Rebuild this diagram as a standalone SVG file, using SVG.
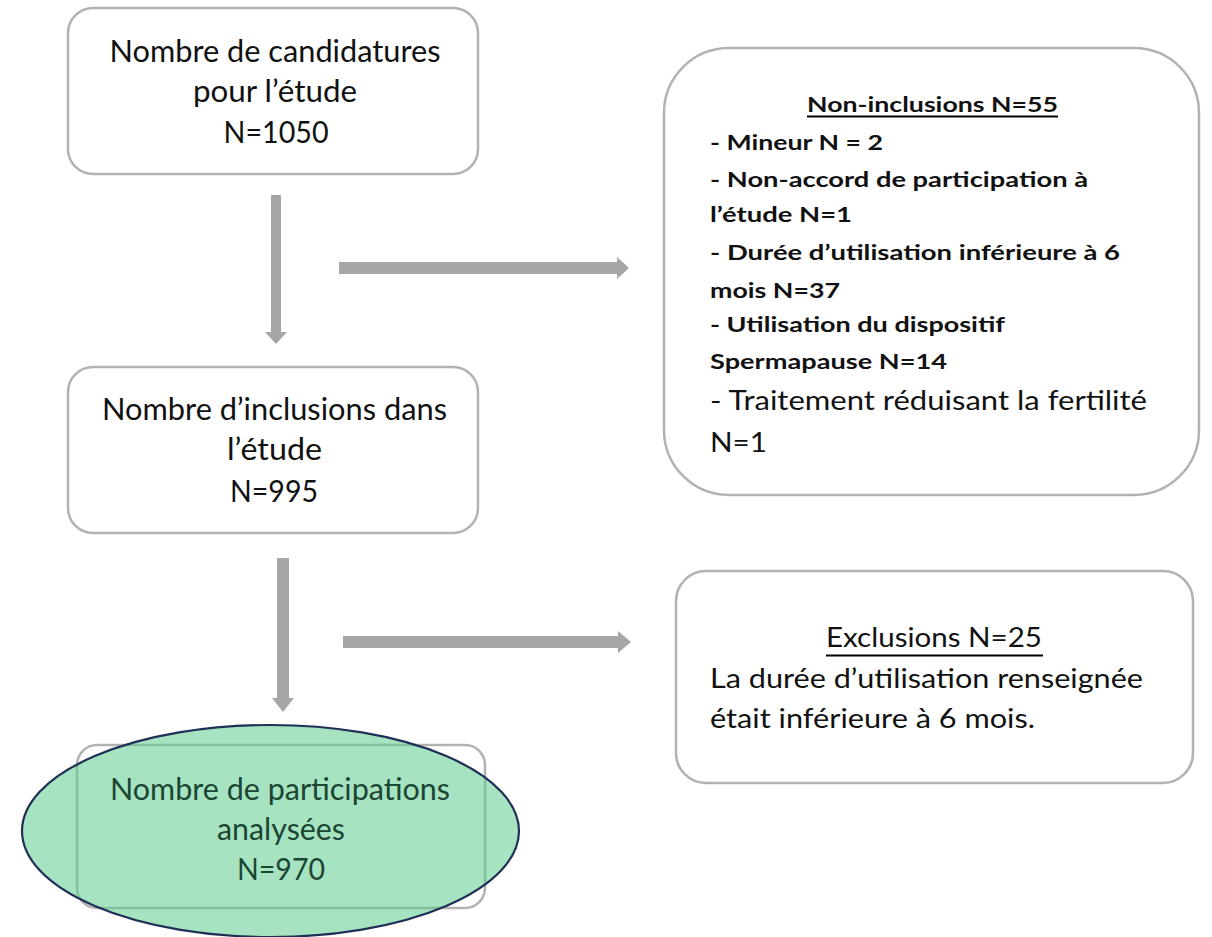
<svg xmlns="http://www.w3.org/2000/svg" width="1212" height="937" viewBox="0 0 1212 937">
  <style>
    .box { fill: #ffffff; stroke: #b2b2b2; stroke-width: 2.5; }
    .t { font-family: Lato, "Liberation Sans", sans-serif; fill: #111111; }
    .c { text-anchor: middle; font-size: 30px; }
    .li { font-size: 21px; font-weight: 700; }
    .lg { font-size: 27px; }
    .arr { fill: #a6a6a6; }
    .g { fill: #1b4634; }
  </style>
  <rect width="1212" height="937" fill="#ffffff"/>

  <g id="connectors">
    <path class="arr" d="M271,195 H281 V332 H287 L276,344 L265,332 H271 Z"/>
    <path class="arr" d="M339,262 V274 H617 V279 L629,268 L617,257 V262 Z"/>
    <path class="arr" d="M277,558 H289 V698 H294 L283,712 L272,698 H277 Z"/>
    <path class="arr" d="M343,636 V648 H618 V653 L631,642 L618,631 V636 Z"/>
  </g>

  <g id="node-candidatures">
    <rect class="box" x="68" y="8" width="410" height="166" rx="25"/>
    <text class="t c" x="275" y="62" textLength="331" lengthAdjust="spacingAndGlyphs">Nombre de candidatures</text>
    <text class="t c" x="275" y="102" textLength="164" lengthAdjust="spacingAndGlyphs">pour l’étude</text>
    <text class="t c" x="276" y="143" textLength="105" lengthAdjust="spacingAndGlyphs">N=1050</text>
  </g>

  <g id="node-inclusions">
    <rect class="box" x="68" y="367" width="410" height="166" rx="25"/>
    <text class="t c" x="274.5" y="420" textLength="345" lengthAdjust="spacingAndGlyphs">Nombre d’inclusions dans</text>
    <text class="t c" x="274.5" y="460" textLength="95" lengthAdjust="spacingAndGlyphs">l’étude</text>
    <text class="t c" x="274" y="502" textLength="88" lengthAdjust="spacingAndGlyphs">N=995</text>
  </g>

  <g id="node-non-inclusions">
    <rect class="box" x="664" y="48" width="535" height="447" rx="65"/>
    <text class="t" x="932.5" y="112" text-anchor="middle" font-size="21" font-weight="700" textLength="251" lengthAdjust="spacingAndGlyphs">Non-inclusions N=55</text>
    <line x1="807" y1="116.5" x2="1058" y2="116.5" stroke="#000" stroke-width="2"/>
    <text class="t li" x="710" y="150" textLength="173" lengthAdjust="spacingAndGlyphs">- Mineur N = 2</text>
    <text class="t li" x="710" y="187" textLength="378" lengthAdjust="spacingAndGlyphs">- Non-accord de participation à</text>
    <text class="t li" x="710" y="222" textLength="142" lengthAdjust="spacingAndGlyphs">l’étude N=1</text>
    <text class="t li" x="710" y="260" textLength="410" lengthAdjust="spacingAndGlyphs">- Durée d’utilisation inférieure à 6</text>
    <text class="t li" x="710" y="298" textLength="130" lengthAdjust="spacingAndGlyphs">mois N=37</text>
    <text class="t li" x="710" y="332" textLength="295" lengthAdjust="spacingAndGlyphs">- Utilisation du dispositif</text>
    <text class="t li" x="710" y="369" textLength="237" lengthAdjust="spacingAndGlyphs">Spermapause N=14</text>
    <text class="t lg" x="710" y="410" textLength="437" lengthAdjust="spacingAndGlyphs">- Traitement réduisant la fertilité</text>
    <text class="t lg" x="710" y="452" textLength="57" lengthAdjust="spacingAndGlyphs">N=1</text>
  </g>

  <g id="node-exclusions">
    <rect class="box" x="676" y="571" width="517" height="212" rx="30"/>
    <text class="t" x="934" y="647" text-anchor="middle" font-size="27" textLength="216" lengthAdjust="spacingAndGlyphs">Exclusions N=25</text>
    <line x1="826" y1="655.5" x2="1043" y2="655.5" stroke="#000" stroke-width="2"/>
    <text class="t lg" x="710" y="688" textLength="433" lengthAdjust="spacingAndGlyphs">La durée d’utilisation renseignée</text>
    <text class="t lg" x="710" y="728" textLength="325" lengthAdjust="spacingAndGlyphs">était inférieure à 6 mois.</text>
  </g>

  <g id="node-analysees">
    <rect class="box" x="77" y="745" width="408" height="163" rx="20"/>
    <ellipse cx="270.5" cy="831" rx="248.5" ry="106" fill="#5dcc8e" fill-opacity="0.55" stroke="#1f2f55" stroke-width="2.2"/>
    <text class="t c g" x="280" y="800" textLength="340" lengthAdjust="spacingAndGlyphs">Nombre de participations</text>
    <text class="t c g" x="281" y="840" textLength="128" lengthAdjust="spacingAndGlyphs">analysées</text>
    <text class="t c g" x="281" y="880" textLength="88" lengthAdjust="spacingAndGlyphs">N=970</text>
  </g>
</svg>
